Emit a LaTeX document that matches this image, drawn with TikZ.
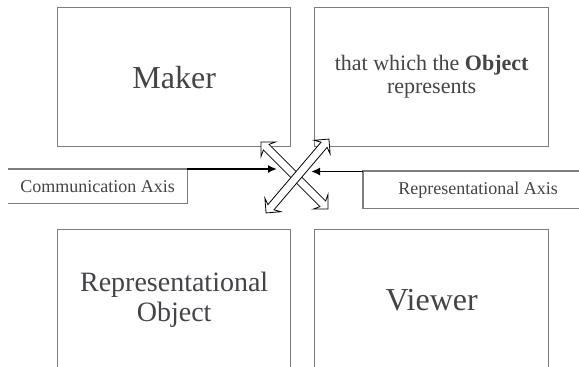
\documentclass[tikz,border=0pt]{standalone}
\usepackage{fontspec}
\setmainfont{Liberation Serif}
\usetikzlibrary{shapes.arrows,arrows.meta}
\definecolor{boxgray}{RGB}{125,125,125}
\definecolor{txtgray}{RGB}{66,68,72}
\begin{document}
\begin{tikzpicture}[x=1pt,y=-1pt,
  bigbox/.style={draw=boxgray,line width=1.3pt,anchor=north west,inner sep=0pt,
    minimum width=233pt,text=txtgray,align=center},
  axisbox/.style={anchor=north west,inner sep=0pt,text=txtgray,
    font=\fontsize{18}{20}\selectfont},
  axisside/.style={draw=boxgray,line width=1.2pt},
  pointer/.style={-{Latex[length=9pt,width=8pt]},line width=1.7pt,black},
  blockarrow/.style={double arrow,draw=black,fill=white,line width=0.8pt,
    inner xsep=0pt,inner ysep=3.6pt,double arrow head extend=6.5pt,
    double arrow head indent=3pt}]
\useasboundingbox (0,0) rectangle (579,367);
\clip (0,0) rectangle (579,367);
\fill[white] (0,0) rectangle (579,367);
\node[bigbox,minimum height=139pt,font=\fontsize{32}{38}\selectfont] (maker) at (57,7)
  {Maker};
\node[bigbox,minimum width=234pt,minimum height=139pt,font=\fontsize{22}{23}\selectfont] (that) at (314,7)
  {that which the \textbf{Object}\\represents};
\node[bigbox,minimum height=141pt,font=\fontsize{28}{30}\selectfont] (repobj) at (57,229)
  {Representational\\Object};
\node[bigbox,minimum width=234pt,minimum height=141pt,font=\fontsize{32}{38}\selectfont] (viewer) at (314,229)
  {Viewer};
\node[axisbox,minimum width=179pt,minimum height=34pt] (cb) at (8,169)
  {Communication Axis};
\draw[axisside] (cb.north west) -- (cb.north east) -- (cb.south east) -- (cb.south west);
\node[axisbox,minimum width=230pt,minimum height=37pt] (rb) at (363,171)
  {Representational Axis};
\draw[axisside] (rb.north east) -- (rb.north west) -- (rb.south west) -- (rb.south east);
\node[blockarrow,minimum height=95pt,rotate=-45] (ax1) at (294.5,175.5) {};
\node[blockarrow,minimum height=97pt,rotate=49.6] (ax2) at (297.5,176) {};
\coordinate (ctip) at (277,169);
\coordinate (rtip) at (311,171.5);
\draw[pointer] (cb.north east) -- (ctip);
\draw[pointer] ([yshift=-0.5pt]rb.north west) -- (rtip);
\end{tikzpicture}
\end{document}
